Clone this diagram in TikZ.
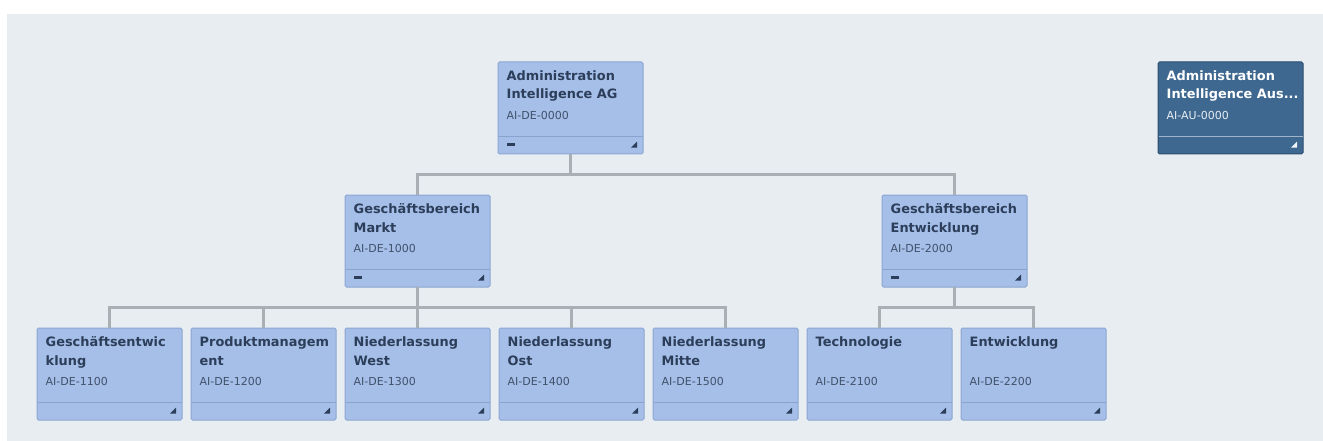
\documentclass[tikz,border=0pt]{standalone}
\usepackage{fontspec}
\setmainfont{DejaVu Sans}
\usetikzlibrary{calc}
\definecolor{bgpanel}{HTML}{E8EDF2}
\definecolor{boxfill}{HTML}{A5BFE8}
\definecolor{boxedge}{HTML}{8CA6D1}
\definecolor{boxtext}{HTML}{2C3E5A}
\definecolor{sepline}{HTML}{8AA3CD}
\definecolor{darkfill}{HTML}{3E6890}
\definecolor{darkedge}{HTML}{2C4D6E}
\definecolor{darksep}{HTML}{9FB4CA}
\definecolor{connline}{HTML}{A9AFB5}
\tikzset{
  light/.style={draw=boxedge, fill=boxfill, line width=1pt, rounded corners=1.5pt,
    minimum width=145pt, minimum height=92pt, inner sep=0pt, outer sep=0pt},
  dark/.style={draw=darkedge, fill=darkfill, line width=1pt, rounded corners=1.5pt,
    minimum width=145pt, minimum height=92pt, inner sep=0pt, outer sep=0pt},
  ttllight/.style={inner sep=0pt, text=boxtext, font=\fontsize{12.9}{15}\selectfont\bfseries},
  ttldark/.style={inner sep=0pt, text=white, font=\fontsize{12.9}{15}\selectfont\bfseries},
  codelight/.style={inner sep=0pt, text=boxtext!90, font=\fontsize{11}{13}\selectfont},
  codedark/.style={inner sep=0pt, text=white!88!darkfill, font=\fontsize{11}{13}\selectfont},
  seplight/.style={draw=sepline, line width=1.5pt},
  sepdark/.style={draw=darksep, line width=1.5pt},
  triglight/.style={fill=boxtext},
  trigdark/.style={fill=white!92!darkfill},
  conn/.style={draw=connline, line width=2.5pt},
}
% name, x, y, style, line1, line2, code
\newcommand\orgbox[7]{%
  \node[#4, anchor=north west] (#1) at (#2,#3) {};
  \node[ttl#4, anchor=base west] (#1-a) at ([xshift=8.5pt,yshift=-18.7pt]#1.north west) {#5};
  \node[ttl#4, anchor=base west] (#1-b) at ([xshift=8.5pt,yshift=-37pt]#1.north west) {#6};
  \node[code#4, anchor=base west] (#1-c) at ([xshift=8.5pt,yshift=-57.7pt]#1.north west) {#7};
  \draw[sep#4] ([xshift=0.5pt,yshift=-74.5pt]#1.north west) -- ([xshift=-0.5pt,yshift=-74.5pt]#1.north east);
  \fill[trig#4] ([xshift=-6pt,yshift=12.3pt]#1.south east) -- ([xshift=-6pt,yshift=6.3pt]#1.south east) -- ([xshift=-12pt,yshift=6.3pt]#1.south east) -- cycle;
}
\newcommand\minusmark[1]{%
  \fill[boxtext] ([xshift=9pt,yshift=8pt]#1.south west) rectangle ([xshift=16.5pt,yshift=11pt]#1.south west);
}
\begin{document}
\begin{tikzpicture}[x=1pt,y=-1pt]
\useasboundingbox (0,0) rectangle (1323,441);
\fill[white] (0,0) rectangle (1323,441);
\fill[bgpanel] (7,14) rectangle (1323,441);

\orgbox{root}{498}{62}{light}{Administration}{Intelligence AG}{AI-DE-0000}
\orgbox{aus}{1158}{62}{dark}{Administration}{Intelligence Aus...}{AI-AU-0000}
\orgbox{markt}{345}{195}{light}{Geschäftsbereich}{Markt}{AI-DE-1000}
\orgbox{entw}{882}{195}{light}{Geschäftsbereich}{Entwicklung}{AI-DE-2000}
\orgbox{ge}{37}{328}{light}{Geschäftsentwic}{klung}{AI-DE-1100}
\orgbox{pm}{191}{328}{light}{Produktmanagem}{ent}{AI-DE-1200}
\orgbox{nw}{345}{328}{light}{Niederlassung}{West}{AI-DE-1300}
\orgbox{no}{499}{328}{light}{Niederlassung}{Ost}{AI-DE-1400}
\orgbox{nm}{653}{328}{light}{Niederlassung}{Mitte}{AI-DE-1500}
\orgbox{tech}{807}{328}{light}{Technologie}{}{AI-DE-2100}
\orgbox{ent}{961}{328}{light}{Entwicklung}{}{AI-DE-2200}

\minusmark{root}
\minusmark{markt}
\minusmark{entw}

\draw[conn] (root.south) -- ++(0,20.5) -| (markt.north);
\draw[conn] (root.south) -- ++(0,20.5) -| (entw.north);
\foreach \c in {ge,pm,nw,no,nm}{
  \draw[conn] (markt.south) -- ++(0,20.5) -| (\c.north);
}
\foreach \c in {tech,ent}{
  \draw[conn] (entw.south) -- ++(0,20.5) -| (\c.north);
}
\end{tikzpicture}
\end{document}
